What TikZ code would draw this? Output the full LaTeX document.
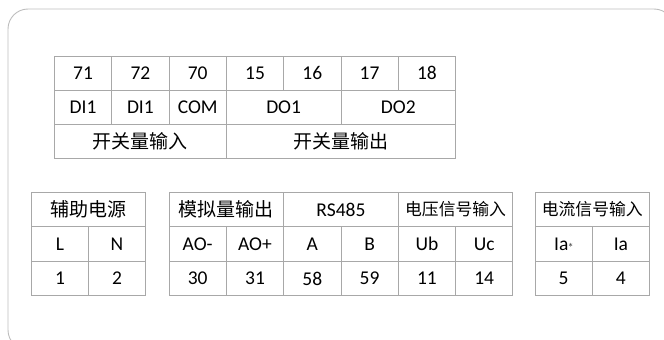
\documentclass[tikz,border=0pt]{standalone}
\usepackage{fontspec}
\setmainfont{Carlito}
\newfontfamily\cjk{Noto Sans CJK SC}
\definecolor{gridline}{HTML}{A8A8A8}
\definecolor{frameline}{HTML}{BDBDBD}
\tikzset{
  cellbox/.style={draw=gridline, line width=0.9pt, anchor=north west, inner sep=0pt,
    font=\fontsize{19.5}{21}\selectfont, text=black},
}
\newcommand{\mkcell}[6]{\node[cellbox, minimum width=#4pt, minimum height=#5pt] (#1) at (#2,#3) {#6};}
\newcommand{\cjkbig}[1]{{\cjk\fontsize{19}{21}\selectfont #1}}
\newcommand{\cjksmall}[1]{{\cjk\fontsize{16.8}{21}\selectfont #1}}
\begin{document}
\begin{tikzpicture}[x=1pt,y=-1pt]
\useasboundingbox (0,0) rectangle (664,340);
\clip (0,0) rectangle (664,340);
\draw[frameline, line width=0.9pt, rounded corners=20pt] (8,9) rectangle (674,350);
% top table
\mkcell{t71}{54}{56}{57.3}{33.5}{71}
\mkcell{t72}{111.3}{56}{57.3}{33.5}{72}
\mkcell{t70}{168.6}{56}{57.3}{33.5}{70}
\mkcell{t15}{225.9}{56}{57.3}{33.5}{15}
\mkcell{t16}{283.2}{56}{57.3}{33.5}{16}
\mkcell{t17}{340.5}{56}{57.3}{33.5}{17}
\mkcell{t18}{397.8}{56}{57.3}{33.5}{18}
\mkcell{di1a}{54}{89.5}{57.3}{34}{DI1}
\mkcell{di1b}{111.3}{89.5}{57.3}{34}{DI1}
\mkcell{com}{168.6}{89.5}{57.3}{34}{COM}
\mkcell{do1}{225.9}{89.5}{114.6}{34}{DO1}
\mkcell{do2}{340.5}{89.5}{114.6}{34}{DO2}
\mkcell{swin}{54}{123.5}{171.9}{34.5}{\cjkbig{开关量输入}}
\mkcell{swout}{225.9}{123.5}{229.2}{34.5}{\cjkbig{开关量输出}}
% bottom table 1: auxiliary power
\mkcell{aux}{31}{192}{114}{34}{\cjkbig{辅助电源}}
\mkcell{pl}{31}{226}{57}{35}{L}
\mkcell{pn}{88}{226}{57}{35}{N}
\mkcell{p1}{31}{261}{57}{34}{1}
\mkcell{p2}{88}{261}{57}{34}{2}
% bottom table 2
\mkcell{ao}{168.6}{192}{114.6}{34}{\cjkbig{模拟量输出}}
\mkcell{rs}{283.2}{192}{114.6}{34}{RS485}
\mkcell{volt}{397.8}{192}{114.6}{34}{\cjksmall{电压信号输入}}
\mkcell{aom}{168.6}{226}{57.3}{35}{AO-}
\mkcell{aop}{225.9}{226}{57.3}{35}{AO+}
\mkcell{ra}{283.2}{226}{57.3}{35}{A}
\mkcell{rb}{340.5}{226}{57.3}{35}{B}
\mkcell{ub}{397.8}{226}{57.3}{35}{Ub}
\mkcell{uc}{455.1}{226}{57.3}{35}{Uc}
\mkcell{n30}{168.6}{261}{57.3}{34}{30}
\mkcell{n31}{225.9}{261}{57.3}{34}{31}
\mkcell{n58}{283.2}{261}{57.3}{34}{58}
\mkcell{n59}{340.5}{261}{57.3}{34}{59}
\mkcell{n11}{397.8}{261}{57.3}{34}{11}
\mkcell{n14}{455.1}{261}{57.3}{34}{14}
% bottom table 3
\mkcell{curr}{534.5}{192}{114.6}{34}{\cjksmall{电流信号输入}}
\mkcell{ias}{534.5}{226}{57.3}{35}{Ia\raisebox{0.12em}{\fontsize{9}{9}\selectfont$\ast$}}
\mkcell{ia}{591.8}{226}{57.3}{35}{Ia}
\mkcell{n5}{534.5}{261}{57.3}{34}{5}
\mkcell{n4}{591.8}{261}{57.3}{34}{4}
\end{tikzpicture}
\end{document}
